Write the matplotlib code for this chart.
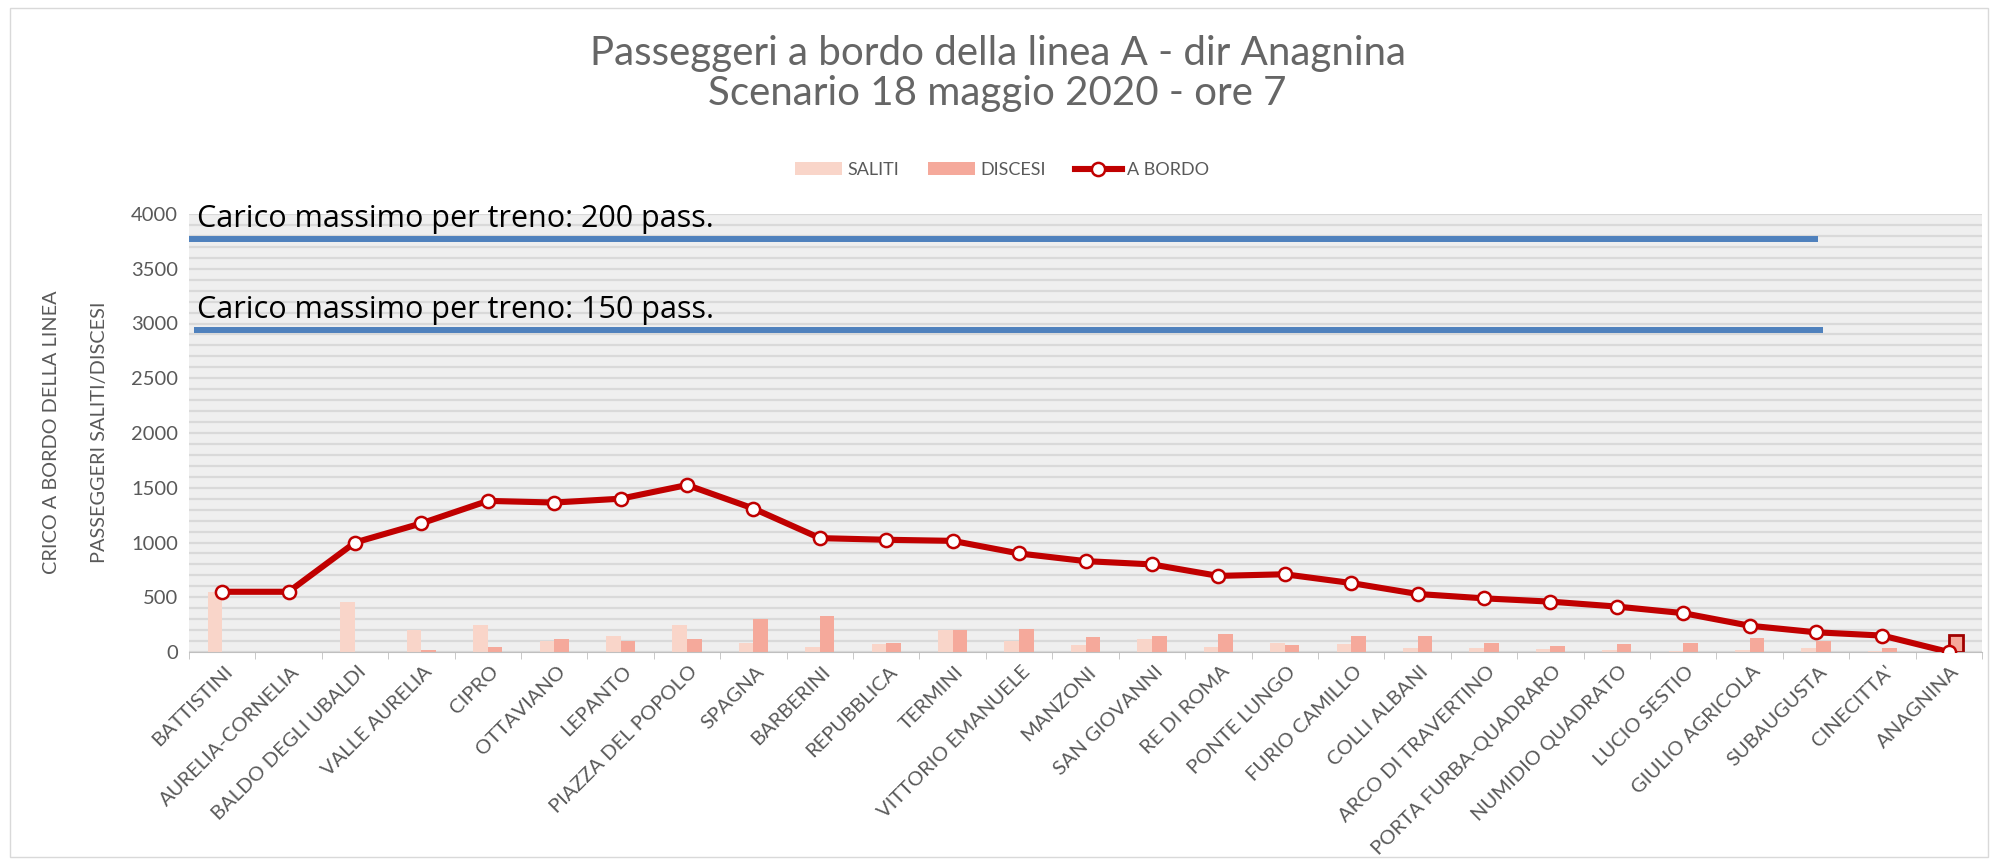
import matplotlib
matplotlib.use("Agg")
import matplotlib.pyplot as plt
import matplotlib.transforms as mtransforms
import numpy as np
from matplotlib.patches import Rectangle

# stations of line A, direction Anagnina
stations = ["BATTISTINI", "AURELIA-CORNELIA", "BALDO DEGLI UBALDI", "VALLE AURELIA",
            "CIPRO", "OTTAVIANO", "LEPANTO", "PIAZZA DEL POPOLO", "SPAGNA", "BARBERINI",
            "REPUBBLICA", "TERMINI", "VITTORIO EMANUELE", "MANZONI", "SAN GIOVANNI",
            "RE DI ROMA", "PONTE LUNGO", "FURIO CAMILLO", "COLLI ALBANI",
            "ARCO DI TRAVERTINO", "PORTA FURBA-QUADRARO", "NUMIDIO QUADRATO",
            "LUCIO SESTIO", "GIULIO AGRICOLA", "SUBAUGUSTA", "CINECITTA'", "ANAGNINA"]

saliti = [550, 0, 455, 200, 250, 105, 145, 245, 85, 50, 70, 200, 100, 65, 120,
          50, 85, 70, 35, 40, 25, 20, 10, 15, 35, 5, 0]
discesi = [0, 0, 0, 20, 50, 120, 105, 120, 305, 325, 80, 200, 210, 140, 150,
           160, 60, 150, 150, 80, 58, 70, 78, 128, 105, 38, 155]
a_bordo = [550, 550, 1000, 1175, 1380, 1365, 1400, 1525, 1310, 1040, 1025, 1015,
           900, 830, 800, 695, 710, 630, 530, 490, 460, 415, 355, 240, 180, 150, 0]

capacity_levels = [3770, 2940]
capacity_labels = ["Carico massimo per treno: 200 pass.",
                   "Carico massimo per treno: 150 pass."]

plt.rcParams['font.family'] = ['Lato', 'DejaVu Sans']
gray = '#595959'

fig = plt.figure(figsize=(19.95, 8.65), dpi=100)
ax = fig.add_axes([189 / 1995, 1 - 652 / 865, (1982 - 189) / 1995, (652 - 214) / 865])

x = np.arange(len(stations))
width = 0.22

ax.set_facecolor('#efefef')
ax.set_yticks(np.arange(0, 4001, 500))
ax.set_yticks(np.arange(0, 4001, 100), minor=True)
ax.grid(axis='y', which='both', color='#d9d9d9', lw=1.6)
ax.set_axisbelow(True)

b1 = ax.bar(x - width / 2, saliti, width, color='#f9d5c9', label='SALITI', zorder=2)
b2 = ax.bar(x + width / 2, discesi, width, color='#f5a99b', label='DISCESI', zorder=2)
b2[-1].set_edgecolor('#a00000')
b2[-1].set_linewidth(2)

ln, = ax.plot(x, a_bordo, color='#c00000', lw=4.4, marker='o', ms=9.5, mfc='white',
              mec='#c00000', mew=1.8, label='A BORDO', zorder=5)

# capacity reference lines
line_ends = [24.03, 24.11]
line_starts = [-0.5, -0.43]
for lvl, lab, x0, x1 in zip(capacity_levels, capacity_labels, line_starts, line_ends):
    ax.hlines(lvl, x0, x1, color='#4f81bd', lw=4.3, zorder=3)
    ax.text(-0.38, lvl + 45, lab, fontsize=22, color='black', va='bottom', ha='left',
            family=['Open Sans', 'DejaVu Sans'], zorder=6)

ax.set_xlim(-0.5, len(stations) - 0.5)
ax.set_ylim(0, 4000)

for s in ['top', 'left', 'right']:
    ax.spines[s].set_visible(False)
ax.spines['bottom'].set_color('#bfbfbf')

ax.set_xticks(x)
ax.set_xticklabels(stations, rotation=45, ha='right', va='center',
                   rotation_mode='anchor', fontsize=14.5, color=gray)
ax.set_xticks(np.arange(-0.5, len(stations), 1), minor=True)
ax.tick_params(axis='x', which='major', length=0, pad=10)
ax.tick_params(axis='x', which='minor', length=5, color='#bfbfbf')
ax.tick_params(axis='y', which='both', length=0, labelsize=14.5, labelcolor=gray, pad=8)

shift = mtransforms.ScaledTranslation(0.08, -0.03, fig.dpi_scale_trans)
for lbl in ax.get_xticklabels():
    lbl.set_transform(lbl.get_transform() + shift)

fig.text(0.5, 1 - 53 / 865, "Passeggeri a bordo della linea A - dir Anagnina",
         ha='center', va='center', fontsize=29, color='#666666')
fig.text(0.5, 1 - 93 / 865, "Scenario 18 maggio 2020 - ore 7",
         ha='center', va='center', fontsize=29, color='#666666')

fig.text(52 / 1995, 1 - 432 / 865, "CRICO A BORDO DELLA LINEA", rotation=90,
         ha='center', va='center', fontsize=14.3, color=gray)
fig.text(100 / 1995, 1 - 432 / 865, "PASSEGGERI SALITI/DISCESI", rotation=90,
         ha='center', va='center', fontsize=14.3, color=gray)

leg = fig.legend([b1, b2, ln], ['SALITI', 'DISCESI', 'A BORDO'], loc='center',
                 bbox_to_anchor=(1002 / 1995, 1 - 170 / 865), ncol=3,
                 frameon=False, fontsize=13, handlelength=2.6, columnspacing=1.6,
                 handletextpad=0.3)
for t in leg.get_texts():
    t.set_color(gray)

fig.patches.append(Rectangle((10 / 1995, 8 / 865), 1978 / 1995, 849 / 865,
                             transform=fig.transFigure, fill=False,
                             ec='#d9d9d9', lw=1))

fig.savefig("out.png", dpi=100)
